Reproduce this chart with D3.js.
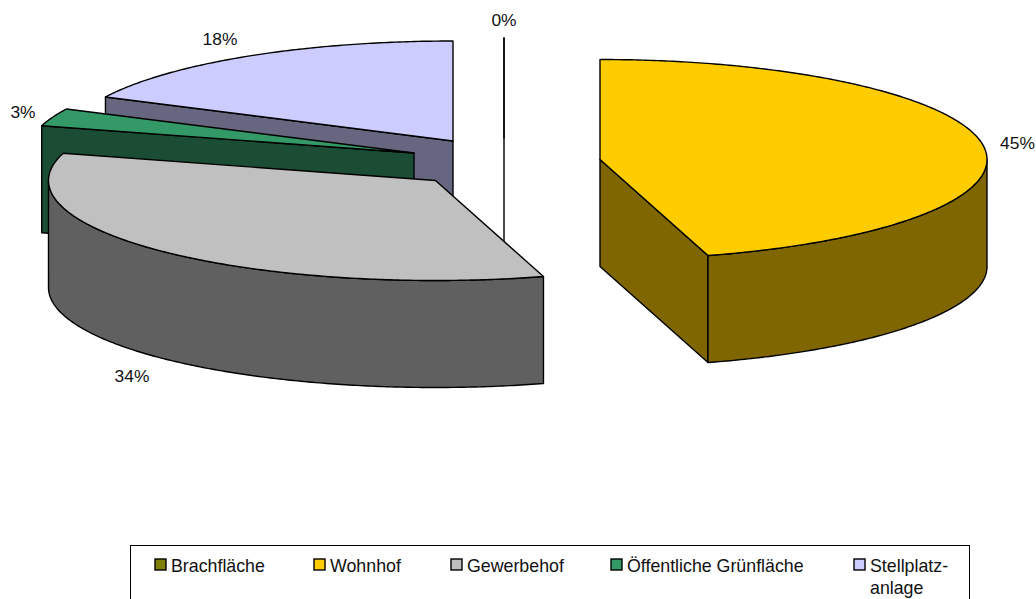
<!DOCTYPE html>
<html><head><meta charset="utf-8">
<script src="https://cdn.jsdelivr.net/npm/d3@7"></script>
<style>html,body{margin:0;padding:0;background:#fff}svg{display:block}text{font-family:"Liberation Sans",Arial,sans-serif;font-size:17.4px;fill:#111}text.lg{font-size:17.8px}</style>
</head><body><svg id="c" width="1036" height="599"></svg>
<script>
const categories = ["Brachfläche","Wohnhof","Gewerbehof","Öffentliche Grünfläche","Stellplatz-anlage"];
const shares = [0,45.5,33.9,2.85,17.75];
const percentLabels = ["0%","45%","34%","3%","18%"];
const topColors = ["#808000","#FFCC00","#C0C0C0","#339966","#CCCCFF"];
const wallColors = ["#404000","#806600","#606060","#1A4D33","#666680"];
const centers = [[504,138],[600,159.5],[435.5,180.5],[414,153],[453,141]];
const labelAt = [[504,26],[1017.5,149],[132,382],[23,118],[220,45]];
const legendSwatchX = [155,314,451,611,854];
const legendLines = [["Brachfläche"],["Wohnhof"],["Gewerbehof"],["Öffentliche Grünfläche"],["Stellplatz-","anlage"]];
const drawOrder = [0,4,3,2,1];

const rx=387, ry=100, depth=107;
const svg=d3.select("#c");
const pie=d3.pie().sort(null).value(d=>d);
const arcs=pie(shares);
const line=d3.line();
const arcPts=(c,a0,a1,dy=0)=>{
  const n=Math.max(1,Math.ceil(Math.abs(a1-a0)/0.01));
  return d3.range(n+1).map(i=>{const a=a0+(a1-a0)*i/n;return [c[0]+rx*Math.sin(a),c[1]-ry*Math.cos(a)+dy];});
};
const draw=(g,pts,fill)=>g.append("path").attr("d",line(pts)+"Z").attr("fill",fill)
  .attr("stroke","#000").attr("stroke-width",1.4).attr("stroke-linejoin","round");

drawOrder.forEach(i=>{
  const a=arcs[i],c=centers[i],g=svg.append("g");
  const base=[c[0],c[1]+depth];
  const a0=a.startAngle,a1=a.endAngle,PI=Math.PI;
  if(a0>PI){const p=arcPts(c,a0,a0)[0];draw(g,[c,p,[p[0],p[1]+depth],base],wallColors[i]);}
  if(a1<PI){const p=arcPts(c,a1,a1)[0];draw(g,[c,p,[p[0],p[1]+depth],base],wallColors[i]);}
  const w0=Math.max(a0,PI/2),w1=Math.min(a1,3*PI/2);
  if(w1>w0){draw(g,[...arcPts(c,w0,w1),...arcPts(c,w0,w1,depth).reverse()],wallColors[i]);}
  draw(g,[c,...arcPts(c,a0,a1)],topColors[i]);
});

arcs.forEach((a,i)=>{
  svg.append("text").attr("x",labelAt[i][0]).attr("y",labelAt[i][1]).attr("text-anchor","middle").text(percentLabels[i]);
});

svg.append("rect").attr("x",130.5).attr("y",545.5).attr("width",839).attr("height",60).attr("fill","#fff").attr("stroke","#000").attr("stroke-width",1);
categories.forEach((c,i)=>{
  const x=legendSwatchX[i];
  svg.append("rect").attr("x",x).attr("y",559).attr("width",11).attr("height",11).attr("fill",topColors[i]).attr("stroke","#000").attr("stroke-width",1.4);
  legendLines[i].forEach((t,j)=>svg.append("text").attr("class","lg").attr("x",x+16).attr("y",572+j*21.5).text(t));
});
</script></body></html>
